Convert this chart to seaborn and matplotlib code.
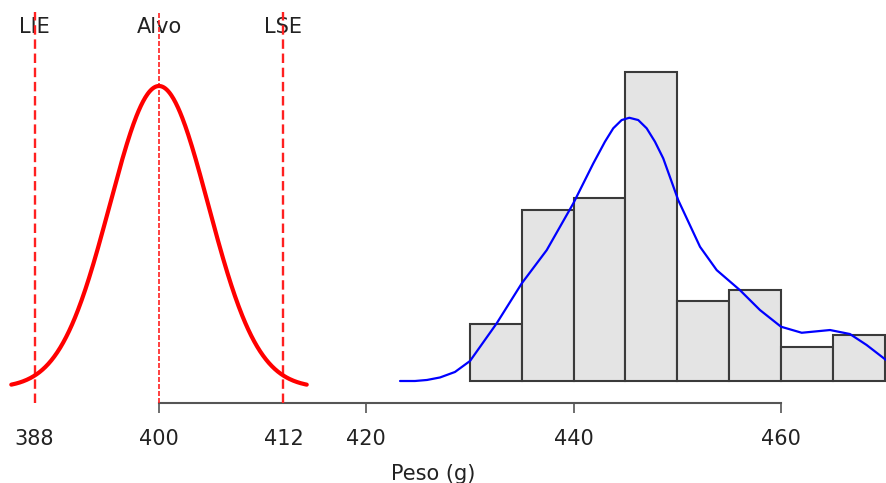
import numpy as np
import matplotlib
matplotlib.use("Agg")
import matplotlib.pyplot as plt
import matplotlib.transforms as mtransforms
import seaborn as sns

# ---------------- data ----------------
bin_edges = [430, 435, 440, 445, 450, 455, 460, 465, 470]
bin_counts = [5, 15, 16, 27, 7, 8, 3, 4]

# density curve of the sample (in count units)
kde_x = [423.25, 424.69, 425.85, 427.11, 428.55, 430.00, 432.57, 434.99,
         437.40, 439.96, 441.89, 443.02, 443.82, 444.63, 445.37, 446.23,
         447.04, 447.84, 448.64, 450.09, 452.19, 453.80, 456.04, 457.97,
         460.00, 462.00, 464.73, 466.65, 468.26, 470.13]
kde_y = [0.00, 0.00, 0.09, 0.31, 0.79, 1.75, 5.04, 8.54,
         11.45, 15.53, 19.03, 20.94, 22.11, 22.83, 23.03, 22.83,
         22.11, 20.94, 19.48, 15.82, 11.74, 9.70, 7.95, 6.21,
         4.75, 4.22, 4.46, 4.11, 3.15, 1.84]

spec_names = ["LIE", "Alvo", "LSE"]
spec_values = [388, 400, 412]
target_mean = 400
target_sd = 4.75

major_ticks = [400, 420, 440, 460]
extra_ticks = [388, 412]
x_label = "Peso (g)"

# ---------------- style ----------------
sns.set_style("white")
plt.rcParams['font.family'] = ['DejaVu Sans']

W, H = 886, 483
fig = plt.figure(figsize=(W / 100, H / 100), dpi=100)
axis_px = 403
ax = fig.add_axes([0, (H - axis_px) / H, 1, axis_px / H])

mids = [(a + b) / 2 for a, b in zip(bin_edges[:-1], bin_edges[1:])]
sns.histplot(x=mids, weights=bin_counts, bins=bin_edges, ax=ax,
             stat="count", facecolor="#e4e4e4", edgecolor="#3a3a3a",
             linewidth=1.5, alpha=1)

sns.lineplot(x=kde_x, y=kde_y, ax=ax, color="#0000ff", linewidth=1.6)

# theoretical (target) normal curve, drawn on its own vertical scale
xs = np.linspace(target_mean - 3 * target_sd, target_mean + 3 * target_sd, 400)
pdf = np.exp(-0.5 * ((xs - target_mean) / target_sd) ** 2) / (target_sd * np.sqrt(2 * np.pi))
ax2 = ax.twinx()
sns.lineplot(x=xs, y=pdf, ax=ax2, color="#ff0000", linewidth=3)
k = 302 / pdf.max()
ax2.set_ylim((388 - axis_px) / k, 388 / k)
ax2.set_axis_off()

px_per_count = 11.43
ax.set_xlim(384.66, 470.13)
ax.set_ylim((381 - axis_px) / px_per_count, 381 / px_per_count)

# spec lines
line_styles = {"LIE": dict(lw=1.7, ls=(0, (4, 2))),
               "Alvo": dict(lw=1.2, ls=(0, (3, 1.2))),
               "LSE": dict(lw=1.7, ls=(0, (4, 2)))}
trans = mtransforms.blended_transform_factory(ax.transData, ax.transAxes)
for name, v in zip(spec_names, spec_values):
    st = line_styles[name]
    ax.axvline(v, ymin=0, ymax=(axis_px - 12) / axis_px, color="#ff2020",
               linewidth=st["lw"], linestyle=st["ls"], zorder=5)
    ax.text(v, (axis_px - 33) / axis_px, name, transform=trans, ha="center",
            va="baseline", fontsize=15, color="#222222")

# axes
for s in ["left", "right", "top"]:
    ax.spines[s].set_visible(False)
ax.spines["bottom"].set_bounds(400, 460)
ax.spines["bottom"].set_color("#555555")
ax.spines["bottom"].set_linewidth(1.5)
ax.set_xticks(major_ticks)
ax.set_xticklabels([str(t) for t in major_ticks])
ax.set_xticks(extra_ticks, minor=True)
ax.set_xticklabels([str(t) for t in extra_ticks], minor=True)
ax.tick_params(axis="x", which="major", length=7, width=1.2, color="#555555",
               pad=12, labelsize=15, labelcolor="#222222", bottom=True)
ax.tick_params(axis="x", which="minor", length=0, pad=12 + 7,
               labelsize=15, labelcolor="#222222", bottom=True)
ax.set_yticks([])
ax.set_ylabel("")
ax.set_xlabel(x_label, fontsize=15, color="#222222")
ax.xaxis.set_label_coords(433.5 / W, (axis_px - 480) / axis_px)
ax.xaxis.label.set_va("baseline")

fig.savefig("out.png", dpi=100)
